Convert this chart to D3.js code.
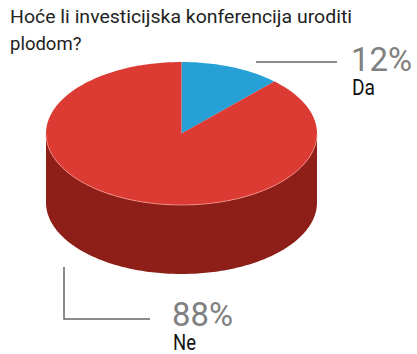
<!DOCTYPE html>
<html>
<head>
<meta charset="utf-8">
<script src="https://cdn.jsdelivr.net/npm/d3@7"></script>
<style>
  body { margin: 0; background: #fff; }
  svg { display: block; }
</style>
</head>
<body>
<div id="chart"></div>
<script>
// data
var title = ["Hoće li investicijska konferencija uroditi", "plodom?"];
var labels = ["Da", "Ne"];
var values = [12, 88];
var topColors = ["#27a0d6", "#dc3b33"];
var sideColors = ["#1f7fa9", "#8d1f18"];

var width = 417, height = 354;

var svg = d3.select("#chart").append("svg")
    .attr("width", width)
    .attr("height", height);

// pie geometry (ellipse)
var cx = 181.5, cy = 133.5, rx = 135.5, ry = 71.5, depth = 69;

var pie = d3.pie().sort(null).value(function(d) { return d; });
var slices = pie(values);

function pt(a, dy) {
  return [cx + rx * Math.sin(a), cy - ry * Math.cos(a) + (dy || 0)];
}

var line = d3.line();

function rimPoints(a0, a1, dy) {
  var n = Math.max(2, Math.ceil(Math.abs(a1 - a0) / 0.02));
  return d3.range(n + 1).map(function(i) { return pt(a0 + (a1 - a0) * i / n, dy); });
}

// side walls (front half only: pi/2 .. 3pi/2)
slices.forEach(function(s, i) {
  var a0 = Math.max(s.startAngle, Math.PI / 2);
  var a1 = Math.min(s.endAngle, 3 * Math.PI / 2);
  if (a1 <= a0) return;
  var upper = rimPoints(a0, a1, 0);
  var lower = rimPoints(a1, a0, depth);
  svg.append("path")
      .attr("d", line(upper.concat(lower)) + "Z")
      .attr("fill", sideColors[i]);
});

// top faces
slices.forEach(function(s, i) {
  var pts = [[cx, cy]].concat(rimPoints(s.startAngle, s.endAngle, 0));
  svg.append("path")
      .attr("d", line(pts) + "Z")
      .attr("fill", topColors[i]);
});

// light edge between top and side
svg.append("path")
    .attr("d", line(rimPoints(Math.PI / 2, 3 * Math.PI / 2, 0)))
    .attr("fill", "none")
    .attr("stroke", "#f4958c")
    .attr("stroke-width", 0.8);

// title
svg.selectAll("text.title")
  .data(title)
  .enter().append("text")
    .attr("class", "title")
    .attr("x", 10)
    .attr("y", function(d, i) { return 23 + i * 27; })
    .attr("font-family", "Roboto, sans-serif")
    .attr("font-size", 18.5)
    .attr("fill", "#222")
    .attr("textLength", function(d, i) { return i === 0 ? 342 : null; })
    .attr("lengthAdjust", "spacingAndGlyphs")
    .text(function(d) { return d; });

// leader lines
svg.append("path")
    .attr("d", "M256,62H337")
    .attr("stroke", "#666")
    .attr("stroke-width", 1.5)
    .attr("fill", "none");

svg.append("path")
    .attr("d", "M64,267V319H150")
    .attr("stroke", "#666")
    .attr("stroke-width", 1.5)
    .attr("fill", "none");

// labels
var labelPos = [[351, 71], [172, 326]];
labels.forEach(function(l, i) {
  svg.append("text")
      .attr("x", labelPos[i][0])
      .attr("y", labelPos[i][1])
      .attr("font-family", "Roboto, sans-serif")
      .attr("font-size", 33)
      .attr("fill", "#808080")
      .attr("textLength", 61)
      .attr("lengthAdjust", "spacingAndGlyphs")
      .text(values[i] + "%");
  svg.append("text")
      .attr("x", labelPos[i][0] + 1)
      .attr("y", labelPos[i][1] + 24)
      .attr("font-family", "Roboto, sans-serif")
      .attr("font-size", 22)
      .attr("fill", "#111")
      .attr("textLength", 23)
      .attr("lengthAdjust", "spacingAndGlyphs")
      .text(l);
});
</script>
</body>
</html>
